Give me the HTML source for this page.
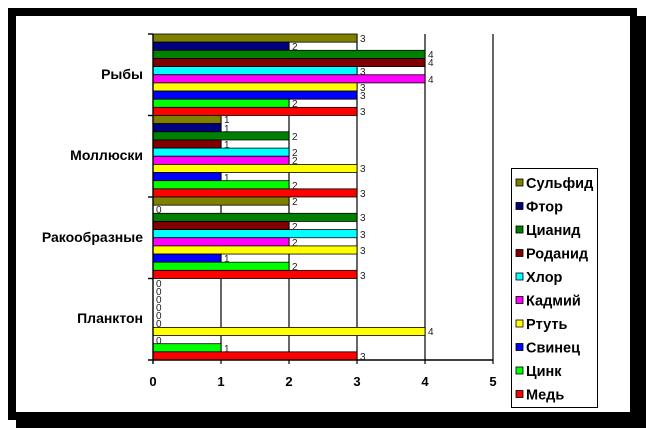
<!DOCTYPE html>
<html><head><meta charset="utf-8"><style>body{margin:0;background:#fff}svg{display:block}</style></head>
<body>
<svg width="646" height="428" xmlns="http://www.w3.org/2000/svg" font-family="Liberation Sans, Arial, sans-serif">
<rect x="0" y="0" width="646" height="428" fill="#fff"/>
<rect x="8" y="8" width="629" height="412" fill="#000"/>
<rect x="16" y="16" width="630" height="412" fill="#000"/>
<rect x="16" y="16" width="614" height="396" fill="#fff"/>
<g stroke="#000" stroke-width="1.2">
<line x1="221" y1="34" x2="221" y2="364"/><line x1="289" y1="34" x2="289" y2="364"/><line x1="357" y1="34" x2="357" y2="364"/><line x1="425" y1="34" x2="425" y2="364"/><line x1="493" y1="34" x2="493" y2="364"/>
</g>
<g stroke="#000" stroke-width="0.8">
<rect x="153" y="34" width="204" height="8.15" fill="#808000"/><rect x="153" y="42.15" width="136" height="8.15" fill="#000080"/><rect x="153" y="50.3" width="272" height="8.15" fill="#008000"/><rect x="153" y="58.45" width="272" height="8.15" fill="#800000"/><rect x="153" y="66.6" width="204" height="8.15" fill="#00ffff"/><rect x="153" y="74.75" width="272" height="8.15" fill="#ff00ff"/><rect x="153" y="82.9" width="204" height="8.15" fill="#ffff00"/><rect x="153" y="91.05" width="204" height="8.15" fill="#0000ff"/><rect x="153" y="99.2" width="136" height="8.15" fill="#00ff00"/><rect x="153" y="107.35" width="204" height="8.15" fill="#ff0000"/>
<rect x="153" y="115.5" width="68" height="8.15" fill="#808000"/><rect x="153" y="123.65" width="68" height="8.15" fill="#000080"/><rect x="153" y="131.8" width="136" height="8.15" fill="#008000"/><rect x="153" y="139.95" width="68" height="8.15" fill="#800000"/><rect x="153" y="148.1" width="136" height="8.15" fill="#00ffff"/><rect x="153" y="156.25" width="136" height="8.15" fill="#ff00ff"/><rect x="153" y="164.4" width="204" height="8.15" fill="#ffff00"/><rect x="153" y="172.55" width="68" height="8.15" fill="#0000ff"/><rect x="153" y="180.7" width="136" height="8.15" fill="#00ff00"/><rect x="153" y="188.85" width="204" height="8.15" fill="#ff0000"/>
<rect x="153" y="197" width="136" height="8.15" fill="#808000"/><rect x="153" y="213.3" width="204" height="8.15" fill="#008000"/><rect x="153" y="221.45" width="136" height="8.15" fill="#800000"/><rect x="153" y="229.6" width="204" height="8.15" fill="#00ffff"/><rect x="153" y="237.75" width="136" height="8.15" fill="#ff00ff"/><rect x="153" y="245.9" width="204" height="8.15" fill="#ffff00"/><rect x="153" y="254.05" width="68" height="8.15" fill="#0000ff"/><rect x="153" y="262.2" width="136" height="8.15" fill="#00ff00"/><rect x="153" y="270.35" width="204" height="8.15" fill="#ff0000"/>
<rect x="153" y="327.4" width="272" height="8.15" fill="#ffff00"/><rect x="153" y="343.7" width="68" height="8.15" fill="#00ff00"/><rect x="153" y="351.85" width="204" height="8.15" fill="#ff0000"/>
</g>
<g stroke="#000" stroke-width="1.4">
<line x1="153" y1="34" x2="153" y2="364"/><line x1="148" y1="360" x2="493" y2="360"/>
<line x1="148" y1="34" x2="153" y2="34"/><line x1="148" y1="115.5" x2="153" y2="115.5"/><line x1="148" y1="197" x2="153" y2="197"/><line x1="148" y1="278.5" x2="153" y2="278.5"/>
</g>
<g font-size="10" fill="#222">
<text x="360" y="42">3</text><text x="292" y="50">2</text><text x="428" y="58">4</text><text x="428" y="66">4</text><text x="360" y="75">3</text><text x="428" y="83">4</text><text x="360" y="91">3</text><text x="360" y="99">3</text><text x="292" y="107">2</text><text x="360" y="115">3</text>
<text x="224" y="123">1</text><text x="224" y="132">1</text><text x="292" y="140">2</text><text x="224" y="148">1</text><text x="292" y="156">2</text><text x="292" y="164">2</text><text x="360" y="172">3</text><text x="224" y="181">1</text><text x="292" y="189">2</text><text x="360" y="197">3</text>
<text x="292" y="205">2</text><text x="156" y="213">0</text><text x="360" y="221">3</text><text x="292" y="230">2</text><text x="360" y="238">3</text><text x="292" y="246">2</text><text x="360" y="254">3</text><text x="224" y="262">1</text><text x="292" y="270">2</text><text x="360" y="279">3</text>
<text x="156" y="287">0</text><text x="156" y="295">0</text><text x="156" y="303">0</text><text x="156" y="311">0</text><text x="156" y="319">0</text><text x="156" y="327">0</text><text x="428" y="335">4</text><text x="156" y="344">0</text><text x="224" y="352">1</text><text x="360" y="360">3</text>
</g>
<g font-size="14" font-weight="bold" text-anchor="end" fill="#000">
<text x="143" y="79">Рыбы</text><text x="143" y="160">Моллюски</text><text x="143" y="242">Ракообразные</text><text x="143" y="323">Планктон</text>
</g>
<g font-size="13" font-weight="bold" text-anchor="middle" fill="#000">
<text x="153" y="386">0</text><text x="221" y="386">1</text><text x="289" y="386">2</text><text x="357" y="386">3</text><text x="425" y="386">4</text><text x="493" y="386">5</text>
</g>
<rect x="511.5" y="168.5" width="86" height="239" fill="#fff" stroke="#000" stroke-width="1"/>
<g stroke="#000" stroke-width="0.8">
<rect x="516" y="179" width="7" height="7" fill="#808000"/><rect x="516" y="202.5" width="7" height="7" fill="#000080"/><rect x="516" y="226" width="7" height="7" fill="#008000"/><rect x="516" y="249.5" width="7" height="7" fill="#800000"/><rect x="516" y="273" width="7" height="7" fill="#00ffff"/><rect x="516" y="296.5" width="7" height="7" fill="#ff00ff"/><rect x="516" y="320" width="7" height="7" fill="#ffff00"/><rect x="516" y="343.5" width="7" height="7" fill="#0000ff"/><rect x="516" y="367" width="7" height="7" fill="#00ff00"/><rect x="516" y="390.5" width="7" height="7" fill="#ff0000"/>
</g>
<g font-size="14.5" font-weight="bold" fill="#000">
<text x="526" y="188">Сульфид</text><text x="526" y="211.5">Фтор</text><text x="526" y="235">Цианид</text><text x="526" y="258.5">Роданид</text><text x="526" y="282">Хлор</text><text x="526" y="305.5">Кадмий</text><text x="526" y="329">Ртуть</text><text x="526" y="352.5">Свинец</text><text x="526" y="376">Цинк</text><text x="526" y="399.5">Медь</text>
</g>
</svg>
</body></html>
